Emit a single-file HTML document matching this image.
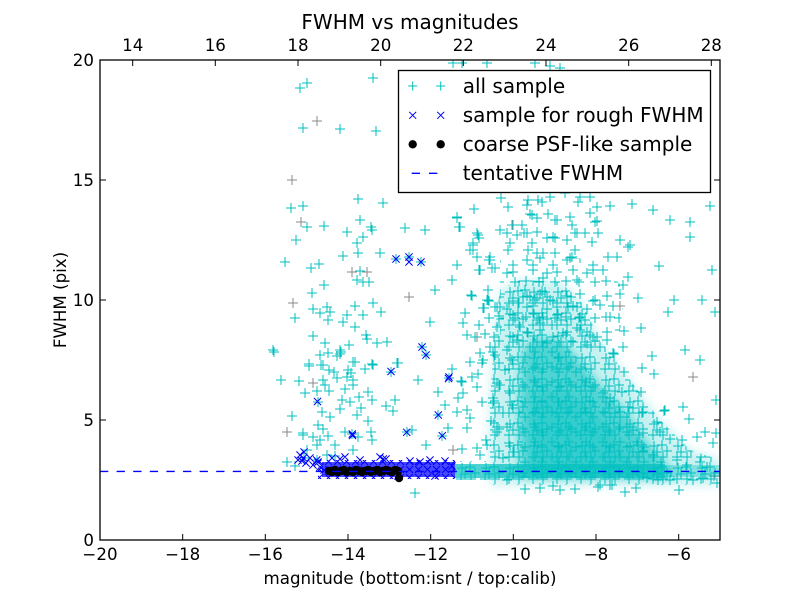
<!DOCTYPE html>
<html>
<head>
<meta charset="utf-8">
<style>
html,body{margin:0;padding:0;background:#fff;}
svg{display:block;}
text{font-family:"DejaVu Sans","Liberation Sans",sans-serif;fill:#000;}
</style>
</head>
<body>
<svg xmlns="http://www.w3.org/2000/svg" width="800" height="600" viewBox="0 0 800 600">
<defs>
<clipPath id="cp"><rect x="100" y="60" width="620" height="480"/></clipPath>
<filter id="bl" x="-20%" y="-20%" width="140%" height="140%"><feGaussianBlur stdDeviation="5"/></filter>
<pattern id="pd" patternUnits="userSpaceOnUse" x="0" y="0" width="24" height="22">
<path d="M6 6m-5 0h10m-5-5v10M14 5m-5 0h10m-5-5v10M19 11m-5 0h10m-5-5v10M9 12m-5 0h10m-5-5v10M5 17m-5 0h10m-5-5v10M15 17m-5 0h10m-5-5v10" stroke="#00bfbf" stroke-width="1" fill="none"/>
</pattern>
<pattern id="pd2" patternUnits="userSpaceOnUse" x="3" y="2" width="17" height="15">
<path d="M5 5m-5 0h10m-5-5v10M12 10m-5 0h10m-5-5v10" stroke="#00bfbf" stroke-width="1" fill="none"/>
</pattern>
<pattern id="pm" patternUnits="userSpaceOnUse" x="0" y="0" width="40" height="36">
<path d="M7 8m-5 0h10m-5-5v10M20 6m-5 0h10m-5-5v10M33 13m-5 0h10m-5-5v10M13 18m-5 0h10m-5-5v10M27 21m-5 0h10m-5-5v10M35 30m-5 0h10m-5-5v10M6 29m-5 0h10m-5-5v10M19 30m-5 0h10m-5-5v10" stroke="#00bfbf" stroke-width="1" fill="none"/>
</pattern>
<pattern id="pb" patternUnits="userSpaceOnUse" x="0" y="1" width="9" height="8">
<path d="M1 1l7 7M1 8l7-7" stroke="#0000ff" stroke-width="1" fill="none"/>
</pattern>
</defs>
<rect x="0" y="0" width="800" height="600" fill="#fff"/>
<g clip-path="url(#cp)">
<!-- gray pluses -->
<path fill="none" stroke="#8a8a8a" stroke-width="1" d="M317 121m-5 0h10m-5-5v10M301 222m-5 0h10m-5-5v10M293 303m-5 0h10m-5-5v10M352 272m-5 0h10m-5-5v10M409 297m-5 0h10m-5-5v10M367 272m-5 0h10m-5-5v10M313 383m-5 0h10m-5-5v10M287 432m-5 0h10m-5-5v10M453 450m-5 0h10m-5-5v10M512 225m-5 0h10m-5-5v10M620 306m-5 0h10m-5-5v10M693 377m-5 0h10m-5-5v10M714 476m-5 0h10m-5-5v10M477 337m-5 0h10m-5-5v10M292 180m-5 0h10m-5-5v10"/>
<!-- soft density fills -->
<g filter="url(#bl)">
<polygon points="490,485 490,400 495,330 500,290 520,280 560,282 580,300 600,340 630,380 660,420 690,450 720,460 720,485" fill="#00bfbf" fill-opacity="0.22"/>
<polygon points="520,478 518,420 520,380 522,350 535,338 560,340 580,360 600,385 625,410 645,440 665,462 675,478" fill="#00bfbf" fill-opacity="0.6"/>
<polygon points="530,472 530,420 535,395 555,390 580,400 605,425 625,450 635,472" fill="#00bfbf" fill-opacity="0.35"/>
</g>
<polygon points="490,485 490,400 495,330 500,290 520,280 560,282 580,300 600,340 630,380 660,420 690,450 720,460 720,485" fill="url(#pd)"/>
<polygon points="500,260 520,255 560,255 600,262 625,290 620,330 600,350 560,345 520,340 500,340" fill="url(#pm)"/>
<polygon points="520,478 518,420 520,380 522,350 535,338 560,340 580,360 600,385 625,410 645,440 665,462 675,478" fill="url(#pd2)"/>
<rect x="455" y="464" width="210" height="14" fill="#00bfbf" fill-opacity="0.7"/>
<rect x="665" y="465" width="55" height="12" fill="#00bfbf" fill-opacity="0.35"/>
<rect x="455" y="461" width="265" height="19" fill="url(#pd)"/>
<!-- cyan explicit pluses -->
<path fill="none" stroke="#00bfbf" stroke-width="1" d="
M300 88m-5 0h10m-5-5v10M307 83m-5 0h10m-5-5v10M373 78m-5 0h10m-5-5v10M303 128m-5 0h10m-5-5v10M340 129m-5 0h10m-5-5v10M376 131m-5 0h10m-5-5v10M358 199m-5 0h10m-5-5v10M383 203m-5 0h10m-5-5v10M291 208m-5 0h10m-5-5v10M303 206m-5 0h10m-5-5v10M307 227m-5 0h10m-5-5v10M324 226m-5 0h10m-5-5v10M360 220m-5 0h10m-5-5v10M347 232m-5 0h10m-5-5v10M371 227m-5 0h10m-5-5v10M372 230m-5 0h10m-5-5v10M405 228m-5 0h10m-5-5v10M357 243m-5 0h10m-5-5v10M363 237m-5 0h10m-5-5v10M343 256m-5 0h10m-5-5v10M358 253m-5 0h10m-5-5v10M380 253m-5 0h10m-5-5v10M311 268m-5 0h10m-5-5v10M319 264m-5 0h10m-5-5v10M360 271m-5 0h10m-5-5v10M357 280m-5 0h10m-5-5v10M363 282m-5 0h10m-5-5v10M369 282m-5 0h10m-5-5v10M324 285m-5 0h10m-5-5v10M312 293m-5 0h10m-5-5v10M295 318m-5 0h10m-5-5v10M313 309m-5 0h10m-5-5v10M320 313m-5 0h10m-5-5v10M327 307m-5 0h10m-5-5v10M330 312m-5 0h10m-5-5v10M328 320m-5 0h10m-5-5v10M343 322m-5 0h10m-5-5v10M347 315m-5 0h10m-5-5v10M355 306m-5 0h10m-5-5v10M363 315m-5 0h10m-5-5v10M373 303m-5 0h10m-5-5v10M381 312m-5 0h10m-5-5v10M355 327m-5 0h10m-5-5v10M313 336m-5 0h10m-5-5v10M325 343m-5 0h10m-5-5v10M366 335m-5 0h10m-5-5v10M367 339m-5 0h10m-5-5v10M349 345m-5 0h10m-5-5v10M340 350m-5 0h10m-5-5v10M387 342m-5 0h10m-5-5v10M377 343m-5 0h10m-5-5v10
M457 218m-5 0h10m-5-5v10M459 227m-5 0h10m-5-5v10M474 209m-5 0h10m-5-5v10M477 233m-5 0h10m-5-5v10M479 238m-5 0h10m-5-5v10M470 250m-5 0h10m-5-5v10M473 243m-5 0h10m-5-5v10M457 265m-5 0h10m-5-5v10M452 280m-5 0h10m-5-5v10M477 257m-5 0h10m-5-5v10M479 270m-5 0h10m-5-5v10M489 260m-5 0h10m-5-5v10M492 268m-5 0h10m-5-5v10M488 290m-5 0h10m-5-5v10M489 301m-5 0h10m-5-5v10M471 295m-5 0h10m-5-5v10M465 313m-5 0h10m-5-5v10M483 308m-5 0h10m-5-5v10M497 307m-5 0h10m-5-5v10M467 335m-5 0h10m-5-5v10M485 334m-5 0h10m-5-5v10M494 337m-5 0h10m-5-5v10M480 353m-5 0h10m-5-5v10M490 347m-5 0h10m-5-5v10M470 362m-5 0h10m-5-5v10M483 360m-5 0h10m-5-5v10M495 355m-5 0h10m-5-5v10M452 369m-5 0h10m-5-5v10M461 381m-5 0h10m-5-5v10M472 377m-5 0h10m-5-5v10M463 393m-5 0h10m-5-5v10M477 387m-5 0h10m-5-5v10M467 428m-5 0h10m-5-5v10M462 449m-5 0h10m-5-5v10M477 448m-5 0h10m-5-5v10M475 337m-5 0h10m-5-5v10M472 296m-5 0h10m-5-5v10M488 300m-5 0h10m-5-5v10M484 308m-5 0h10m-5-5v10M495 307m-5 0h10m-5-5v10M463 323m-5 0h10m-5-5v10M479 325m-5 0h10m-5-5v10M499 316m-5 0h10m-5-5v10M489 318m-5 0h10m-5-5v10M482 363m-5 0h10m-5-5v10M478 374m-5 0h10m-5-5v10M462 382m-5 0h10m-5-5v10M497 383m-5 0h10m-5-5v10M480 270m-5 0h10m-5-5v10M478 235m-5 0h10m-5-5v10
M445 405m-5 0h10m-5-5v10M457 412m-5 0h10m-5-5v10M470 418m-5 0h10m-5-5v10M482 402m-5 0h10m-5-5v10M491 421m-5 0h10m-5-5v10M486 440m-5 0h10m-5-5v10M497 432m-5 0h10m-5-5v10M448 428m-5 0h10m-5-5v10M458 398m-5 0h10m-5-5v10M493 398m-5 0h10m-5-5v10M480 455m-5 0h10m-5-5v10M467 410m-5 0h10m-5-5v10M487 445m-5 0h10m-5-5v10M493 403m-5 0h10m-5-5v10M500 385m-5 0h10m-5-5v10M510 393m-5 0h10m-5-5v10M503 413m-5 0h10m-5-5v10M497 427m-5 0h10m-5-5v10M507 427m-5 0h10m-5-5v10M509 443m-5 0h10m-5-5v10M503 458m-5 0h10m-5-5v10M507 480m-5 0h10m-5-5v10M512 405m-5 0h10m-5-5v10M514 452m-5 0h10m-5-5v10M505 370m-5 0h10m-5-5v10M512 360m-5 0h10m-5-5v10
M273 350m-5 0h10m-5-5v10M309 364m-5 0h10m-5-5v10M321 365m-5 0h10m-5-5v10M329 370m-5 0h10m-5-5v10M337 356m-5 0h10m-5-5v10M340 354m-5 0h10m-5-5v10M348 370m-5 0h10m-5-5v10M353 362m-5 0h10m-5-5v10M365 369m-5 0h10m-5-5v10M372 364m-5 0h10m-5-5v10M299 381m-5 0h10m-5-5v10M325 385m-5 0h10m-5-5v10M353 385m-5 0h10m-5-5v10M397 363m-5 0h10m-5-5v10M320 355m-5 0h10m-5-5v10M328 353m-5 0h10m-5-5v10M341 352m-5 0h10m-5-5v10M309 366m-5 0h10m-5-5v10M323 365m-5 0h10m-5-5v10M334 372m-5 0h10m-5-5v10M355 362m-5 0h10m-5-5v10M351 373m-5 0h10m-5-5v10M373 365m-5 0h10m-5-5v10M398 363m-5 0h10m-5-5v10M323 380m-5 0h10m-5-5v10M337 378m-5 0h10m-5-5v10M347 377m-5 0h10m-5-5v10M353 380m-5 0h10m-5-5v10M305 393m-5 0h10m-5-5v10M317 391m-5 0h10m-5-5v10M329 391m-5 0h10m-5-5v10M345 389m-5 0h10m-5-5v10M359 397m-5 0h10m-5-5v10M368 392m-5 0h10m-5-5v10M342 400m-5 0h10m-5-5v10M350 402m-5 0h10m-5-5v10M372 400m-5 0h10m-5-5v10M386 406m-5 0h10m-5-5v10M395 400m-5 0h10m-5-5v10M322 412m-5 0h10m-5-5v10M340 409m-5 0h10m-5-5v10M361 408m-5 0h10m-5-5v10M393 411m-5 0h10m-5-5v10M330 417m-5 0h10m-5-5v10M357 415m-5 0h10m-5-5v10M368 421m-5 0h10m-5-5v10M318 425m-5 0h10m-5-5v10M323 429m-5 0h10m-5-5v10M303 435m-5 0h10m-5-5v10M313 437m-5 0h10m-5-5v10M328 436m-5 0h10m-5-5v10M345 432m-5 0h10m-5-5v10M358 437m-5 0h10m-5-5v10M371 432m-5 0h10m-5-5v10M320 440m-5 0h10m-5-5v10M317 445m-5 0h10m-5-5v10M335 445m-5 0h10m-5-5v10M372 440m-5 0h10m-5-5v10M353 450m-5 0h10m-5-5v10M327 455m-5 0h10m-5-5v10M335 456m-5 0h10m-5-5v10M307 450m-5 0h10m-5-5v10M295 466m-5 0h10m-5-5v10M415 493m-5 0h10m-5-5v10M303 433m-5 0h10m-5-5v10M287 462m-5 0h10m-5-5v10M274 352m-5 0h10m-5-5v10M281 380m-5 0h10m-5-5v10M292 416m-5 0h10m-5-5v10M285 262m-5 0h10m-5-5v10M296 240m-5 0h10m-5-5v10M418 380m-5 0h10m-5-5v10M430 322m-5 0h10m-5-5v10M435 290m-5 0h10m-5-5v10M425 230m-5 0h10m-5-5v10M412 430m-5 0h10m-5-5v10M426 445m-5 0h10m-5-5v10M438 392m-5 0h10m-5-5v10
M501 198m-5 0h10m-5-5v10M508 207m-5 0h10m-5-5v10M528 200m-5 0h10m-5-5v10M527 205m-5 0h10m-5-5v10M538 200m-5 0h10m-5-5v10M550 197m-5 0h10m-5-5v10M565 193m-5 0h10m-5-5v10M580 197m-5 0h10m-5-5v10M590 197m-5 0h10m-5-5v10M597 207m-5 0h10m-5-5v10M610 206m-5 0h10m-5-5v10M632 204m-5 0h10m-5-5v10M710 206m-5 0h10m-5-5v10M457 217m-5 0h10m-5-5v10M460 227m-5 0h10m-5-5v10M500 230m-5 0h10m-5-5v10M522 225m-5 0h10m-5-5v10M530 214m-5 0h10m-5-5v10M537 218m-5 0h10m-5-5v10M548 214m-5 0h10m-5-5v10M555 220m-5 0h10m-5-5v10M572 225m-5 0h10m-5-5v10M570 217m-5 0h10m-5-5v10M595 222m-5 0h10m-5-5v10M590 213m-5 0h10m-5-5v10M670 220m-5 0h10m-5-5v10M507 233m-5 0h10m-5-5v10M517 235m-5 0h10m-5-5v10M527 233m-5 0h10m-5-5v10M537 232m-5 0h10m-5-5v10M547 238m-5 0h10m-5-5v10M555 238m-5 0h10m-5-5v10M567 240m-5 0h10m-5-5v10M575 233m-5 0h10m-5-5v10M585 233m-5 0h10m-5-5v10M598 233m-5 0h10m-5-5v10M620 240m-5 0h10m-5-5v10M630 245m-5 0h10m-5-5v10M690 237m-5 0h10m-5-5v10M473 245m-5 0h10m-5-5v10M510 243m-5 0h10m-5-5v10M532 243m-5 0h10m-5-5v10M473 250m-5 0h10m-5-5v10M490 257m-5 0h10m-5-5v10M508 250m-5 0h10m-5-5v10M528 250m-5 0h10m-5-5v10M537 253m-5 0h10m-5-5v10M543 253m-5 0h10m-5-5v10M555 253m-5 0h10m-5-5v10M575 250m-5 0h10m-5-5v10M572 257m-5 0h10m-5-5v10M608 257m-5 0h10m-5-5v10M617 257m-5 0h10m-5-5v10M453 63m-5 0h10m-5-5v10M462 63m-5 0h10m-5-5v10M487 63m-5 0h10m-5-5v10M535 63m-5 0h10m-5-5v10M550 66m-5 0h10m-5-5v10M560 68m-5 0h10m-5-5v10M542 202m-5 0h10m-5-5v10M578 202m-5 0h10m-5-5v10M513 225m-5 0h10m-5-5v10M532 215m-5 0h10m-5-5v10M557 220m-5 0h10m-5-5v10M597 221m-5 0h10m-5-5v10M524 233m-5 0h10m-5-5v10M553 237m-5 0h10m-5-5v10M577 233m-5 0h10m-5-5v10M592 242m-5 0h10m-5-5v10M628 247m-5 0h10m-5-5v10M653 210m-5 0h10m-5-5v10M690 222m-5 0h10m-5-5v10
M490 260m-5 0h10m-5-5v10M495 268m-5 0h10m-5-5v10M513 272m-5 0h10m-5-5v10M533 265m-5 0h10m-5-5v10M543 278m-5 0h10m-5-5v10M557 272m-5 0h10m-5-5v10M570 258m-5 0h10m-5-5v10M577 280m-5 0h10m-5-5v10M593 270m-5 0h10m-5-5v10M603 270m-5 0h10m-5-5v10M623 285m-5 0h10m-5-5v10M628 277m-5 0h10m-5-5v10M638 298m-5 0h10m-5-5v10M487 300m-5 0h10m-5-5v10M500 307m-5 0h10m-5-5v10M527 307m-5 0h10m-5-5v10M530 297m-5 0h10m-5-5v10M550 300m-5 0h10m-5-5v10M557 307m-5 0h10m-5-5v10M568 307m-5 0h10m-5-5v10M577 307m-5 0h10m-5-5v10M595 300m-5 0h10m-5-5v10M600 305m-5 0h10m-5-5v10M513 315m-5 0h10m-5-5v10M533 313m-5 0h10m-5-5v10M543 317m-5 0h10m-5-5v10M557 315m-5 0h10m-5-5v10M580 317m-5 0h10m-5-5v10M610 317m-5 0h10m-5-5v10M497 327m-5 0h10m-5-5v10M520 327m-5 0h10m-5-5v10M540 323m-5 0h10m-5-5v10M563 333m-5 0h10m-5-5v10M577 328m-5 0h10m-5-5v10M587 332m-5 0h10m-5-5v10M597 337m-5 0h10m-5-5v10M607 340m-5 0h10m-5-5v10M623 347m-5 0h10m-5-5v10M613 353m-5 0h10m-5-5v10M600 347m-5 0h10m-5-5v10M517 340m-5 0h10m-5-5v10M530 347m-5 0h10m-5-5v10M547 343m-5 0h10m-5-5v10M507 350m-5 0h10m-5-5v10M493 352m-5 0h10m-5-5v10M525 290m-5 0h10m-5-5v10M535 300m-5 0h10m-5-5v10M545 292m-5 0h10m-5-5v10M518 303m-5 0h10m-5-5v10M552 325m-5 0h10m-5-5v10M528 333m-5 0h10m-5-5v10
M690 237m-5 0h10m-5-5v10M659 266m-5 0h10m-5-5v10M674 300m-5 0h10m-5-5v10M668 312m-5 0h10m-5-5v10M715 312m-5 0h10m-5-5v10M652 356m-5 0h10m-5-5v10M642 368m-5 0h10m-5-5v10M654 374m-5 0h10m-5-5v10M641 392m-5 0h10m-5-5v10M716 400m-5 0h10m-5-5v10M665 410m-5 0h10m-5-5v10M683 407m-5 0h10m-5-5v10M689 419m-5 0h10m-5-5v10M643 412m-5 0h10m-5-5v10M624 372m-5 0h10m-5-5v10M623 347m-5 0h10m-5-5v10M614 354m-5 0h10m-5-5v10M624 331m-5 0h10m-5-5v10M641 328m-5 0h10m-5-5v10M664 411m-5 0h10m-5-5v10M705 432m-5 0h10m-5-5v10M716 433m-5 0h10m-5-5v10M697 437m-5 0h10m-5-5v10M682 440m-5 0h10m-5-5v10M670 439m-5 0h10m-5-5v10M660 432m-5 0h10m-5-5v10M657 422m-5 0h10m-5-5v10M643 433m-5 0h10m-5-5v10M642 413m-5 0h10m-5-5v10M713 443m-5 0h10m-5-5v10M717 483m-5 0h10m-5-5v10M679 490m-5 0h10m-5-5v10M636 488m-5 0h10m-5-5v10M625 492m-5 0h10m-5-5v10M610 485m-5 0h10m-5-5v10M600 485m-5 0h10m-5-5v10M703 478m-5 0h10m-5-5v10M693 480m-5 0h10m-5-5v10M670 480m-5 0h10m-5-5v10M658 480m-5 0h10m-5-5v10M647 478m-5 0h10m-5-5v10M677 460m-5 0h10m-5-5v10M687 465m-5 0h10m-5-5v10M700 462m-5 0h10m-5-5v10M707 467m-5 0h10m-5-5v10M663 457m-5 0h10m-5-5v10M653 455m-5 0h10m-5-5v10M643 452m-5 0h10m-5-5v10M642 445m-5 0h10m-5-5v10M627 427m-5 0h10m-5-5v10M620 417m-5 0h10m-5-5v10M628 407m-5 0h10m-5-5v10M610 398m-5 0h10m-5-5v10M622 392m-5 0h10m-5-5v10M603 393m-5 0h10m-5-5v10M525 489m-5 0h10m-5-5v10M553 486m-5 0h10m-5-5v10M598 487m-5 0h10m-5-5v10M612 485m-5 0h10m-5-5v10M560 490m-5 0h10m-5-5v10M540 488m-5 0h10m-5-5v10M575 489m-5 0h10m-5-5v10M700 360m-5 0h10m-5-5v10M685 350m-5 0h10m-5-5v10M702 300m-5 0h10m-5-5v10M712 270m-5 0h10m-5-5v10
M396 259m-5 0h10m-5-5v10M409 257m-5 0h10m-5-5v10M421 262m-5 0h10m-5-5v10M422 347m-5 0h10m-5-5v10M426 355m-5 0h10m-5-5v10M391 372m-5 0h10m-5-5v10M449 378m-5 0h10m-5-5v10M318 402m-5 0h10m-5-5v10M352 434m-5 0h10m-5-5v10M407 432m-5 0h10m-5-5v10M438 415m-5 0h10m-5-5v10M442 436m-5 0h10m-5-5v10M304 458m-5 0h10m-5-5v10M317 460m-5 0h10m-5-5v10"/>
<!-- blue band -->
<rect x="322" y="462" width="133" height="15" fill="#0000ff" fill-opacity="0.72"/>
<rect x="318" y="460" width="137" height="19" fill="url(#pb)"/>
<path fill="none" stroke="#0000ff" stroke-width="1" d="
M396 259m-3.6-3.6l7.2 7.2m-7.2 0l7.2-7.2M409 257m-3.6-3.6l7.2 7.2m-7.2 0l7.2-7.2M409 262m-3.6-3.6l7.2 7.2m-7.2 0l7.2-7.2M421 262m-3.6-3.6l7.2 7.2m-7.2 0l7.2-7.2M422 347m-3.6-3.6l7.2 7.2m-7.2 0l7.2-7.2M426 355m-3.6-3.6l7.2 7.2m-7.2 0l7.2-7.2M391 371.5m-3.6-3.6l7.2 7.2m-7.2 0l7.2-7.2M448.5 378.5m-3.6-3.6l7.2 7.2m-7.2 0l7.2-7.2M449 377m-3.6-3.6l7.2 7.2m-7.2 0l7.2-7.2M317.5 401.5m-3.6-3.6l7.2 7.2m-7.2 0l7.2-7.2M352.3 434m-3.6-3.6l7.2 7.2m-7.2 0l7.2-7.2M352.5 435.5m-3.6-3.6l7.2 7.2m-7.2 0l7.2-7.2M406.7 432.3m-3.6-3.6l7.2 7.2m-7.2 0l7.2-7.2M438.3 415m-3.6-3.6l7.2 7.2m-7.2 0l7.2-7.2M442.3 435.7m-3.6-3.6l7.2 7.2m-7.2 0l7.2-7.2M303.5 458m-3.6-3.6l7.2 7.2m-7.2 0l7.2-7.2M316.7 460m-3.6-3.6l7.2 7.2m-7.2 0l7.2-7.2M383.3 459m-3.6-3.6l7.2 7.2m-7.2 0l7.2-7.2
M300 455m-3.6-3.6l7.2 7.2m-7.2 0l7.2-7.2M302 461m-3.6-3.6l7.2 7.2m-7.2 0l7.2-7.2M306 463m-3.6-3.6l7.2 7.2m-7.2 0l7.2-7.2M310 458m-3.6-3.6l7.2 7.2m-7.2 0l7.2-7.2M313 465m-3.6-3.6l7.2 7.2m-7.2 0l7.2-7.2M318 462m-3.6-3.6l7.2 7.2m-7.2 0l7.2-7.2M320 467m-3.6-3.6l7.2 7.2m-7.2 0l7.2-7.2M304 452m-3.6-3.6l7.2 7.2m-7.2 0l7.2-7.2M298 460m-3.6-3.6l7.2 7.2m-7.2 0l7.2-7.2M324 470m-3.6-3.6l7.2 7.2m-7.2 0l7.2-7.2
M332 458m-3.6-3.6l7.2 7.2m-7.2 0l7.2-7.2M340 459m-3.6-3.6l7.2 7.2m-7.2 0l7.2-7.2M345 457m-3.6-3.6l7.2 7.2m-7.2 0l7.2-7.2M380 457m-3.6-3.6l7.2 7.2m-7.2 0l7.2-7.2M386 459m-3.6-3.6l7.2 7.2m-7.2 0l7.2-7.2M360 460m-3.6-3.6l7.2 7.2m-7.2 0l7.2-7.2M410 461m-3.6-3.6l7.2 7.2m-7.2 0l7.2-7.2M430 460m-3.6-3.6l7.2 7.2m-7.2 0l7.2-7.2M445 461m-3.6-3.6l7.2 7.2m-7.2 0l7.2-7.2M420 462m-3.6-3.6l7.2 7.2m-7.2 0l7.2-7.2M398 476m-3.6-3.6l7.2 7.2m-7.2 0l7.2-7.2M435 476m-3.6-3.6l7.2 7.2m-7.2 0l7.2-7.2M452 466m-3.6-3.6l7.2 7.2m-7.2 0l7.2-7.2"/>
<!-- black dots -->
<g fill="#000">
<circle cx="329" cy="471" r="4.2"/><circle cx="332" cy="472" r="4.2"/><circle cx="335" cy="470" r="4.2"/><circle cx="338" cy="472" r="4.2"/><circle cx="341" cy="471" r="4.2"/><circle cx="344" cy="470" r="4.2"/><circle cx="347" cy="472" r="4.2"/><circle cx="350" cy="471" r="4.2"/><circle cx="353" cy="472" r="4.2"/><circle cx="356" cy="470" r="4.2"/><circle cx="359" cy="471" r="4.2"/><circle cx="362" cy="472" r="4.2"/><circle cx="365" cy="471" r="4.2"/><circle cx="368" cy="470" r="4.2"/><circle cx="371" cy="472" r="4.2"/><circle cx="374" cy="471" r="4.2"/><circle cx="377" cy="470" r="4.2"/><circle cx="380" cy="472" r="4.2"/><circle cx="383" cy="471" r="4.2"/><circle cx="386" cy="470" r="4.2"/><circle cx="389" cy="471" r="4.2"/><circle cx="392" cy="472" r="4.2"/><circle cx="395" cy="470" r="4.2"/><circle cx="398" cy="471" r="4.2"/><circle cx="399" cy="478" r="4.2"/>
</g>
<line x1="100" y1="471.4" x2="720" y2="471.4" stroke="#0000ff" stroke-width="1.4" stroke-dasharray="8.3,8.3"/>
</g>
<!-- axes frame -->
<rect x="100" y="60" width="620" height="480" fill="none" stroke="#000" stroke-width="1.3"/>
<g stroke="#000" stroke-width="1" fill="none">
<path d="M182.7 540v-6M265.3 540v-6M348 540v-6M430.7 540v-6M513.3 540v-6M596 540v-6M678.7 540v-6"/>
<path d="M100 420h6M100 300h6M100 180h6M720 420h-6M720 300h-6M720 180h-6"/>
<path d="M132.7 60v6M215.3 60v6M298 60v6M380.7 60v6M463.3 60v6M546 60v6M628.7 60v6M711.3 60v6"/>
</g>
<g font-size="16.67" text-anchor="middle">
<text x="100" y="560">−20</text>
<text x="182.7" y="560">−18</text>
<text x="265.3" y="560">−16</text>
<text x="348" y="560">−14</text>
<text x="430.7" y="560">−12</text>
<text x="513.3" y="560">−10</text>
<text x="596" y="560">−8</text>
<text x="678.7" y="560">−6</text>
<text x="132.7" y="51">14</text>
<text x="215.3" y="51">16</text>
<text x="298" y="51">18</text>
<text x="380.7" y="51">20</text>
<text x="463.3" y="51">22</text>
<text x="546" y="51">24</text>
<text x="628.7" y="51">26</text>
<text x="711.3" y="51">28</text>
</g>
<g font-size="16.67" text-anchor="end">
<text x="94" y="546">0</text>
<text x="94" y="426">5</text>
<text x="94" y="306">10</text>
<text x="94" y="186">15</text>
<text x="94" y="66">20</text>
</g>
<text x="410" y="29" font-size="20" text-anchor="middle">FWHM vs magnitudes</text>
<text x="410" y="584" font-size="16.67" text-anchor="middle">magnitude (bottom:isnt / top:calib)</text>
<text transform="translate(66,300) rotate(-90)" font-size="16.67" text-anchor="middle">FWHM (pix)</text>
<!-- legend -->
<rect x="398.5" y="70.5" width="312" height="122" fill="#fff" stroke="#000" stroke-width="1.3"/>
<path d="M408.2 86h9M412.7 81.5v9M436.2 86h9M440.7 81.5v9" stroke="#00bfbf" stroke-width="1" fill="none"/>
<path d="M409.2 111.8l7 7M409.2 118.8l7 -7M437.2 111.8l7 7M437.2 118.8l7 -7" stroke="#0000ff" stroke-width="1" fill="none"/>
<circle cx="412.7" cy="144.3" r="4.2" fill="#000"/>
<circle cx="440.7" cy="144.3" r="4.2" fill="#000"/>
<path d="M411.7 173.3h8.3M429 173.3h8.3" stroke="#0000ff" stroke-width="1.4"/>
<g font-size="20">
<text x="462.7" y="93">all sample</text>
<text x="462.7" y="122">sample for rough FWHM</text>
<text x="462.7" y="151">coarse PSF-like sample</text>
<text x="462.7" y="180">tentative FWHM</text>
</g>
</svg>
</body>
</html>
